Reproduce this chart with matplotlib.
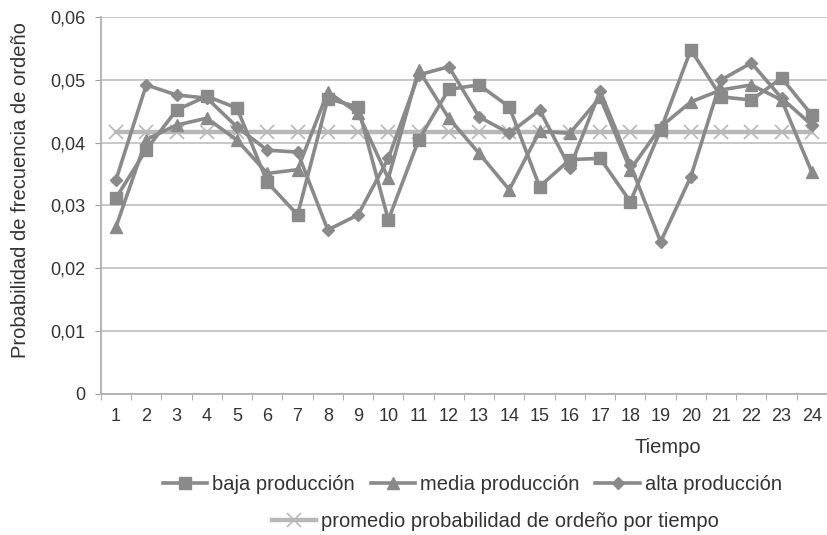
import numpy as np
import matplotlib.pyplot as plt
from matplotlib.ticker import FuncFormatter

plt.rcParams['font.family'] = ['Liberation Sans', 'DejaVu Sans']

tiempo = list(range(1, 25))

baja = [0.0312, 0.0389, 0.0452, 0.0474, 0.0455, 0.0337, 0.0285, 0.0470,
        0.0457, 0.0277, 0.0404, 0.0485, 0.0492, 0.0457, 0.0330, 0.0373,
        0.0375, 0.0306, 0.0420, 0.0548, 0.0473, 0.0468, 0.0503, 0.0444]
media = [0.0266, 0.0405, 0.0428, 0.0439, 0.0404, 0.0351, 0.0357, 0.0481,
         0.0447, 0.0343, 0.0516, 0.0439, 0.0383, 0.0325, 0.0418, 0.0415,
         0.0472, 0.0357, 0.0425, 0.0465, 0.0484, 0.0492, 0.0468, 0.0353]
alta = [0.0341, 0.0492, 0.0476, 0.0471, 0.0425, 0.0388, 0.0385, 0.0261,
        0.0285, 0.0375, 0.0508, 0.0521, 0.0441, 0.0415, 0.0452, 0.0360,
        0.0482, 0.0365, 0.0242, 0.0346, 0.0500, 0.0527, 0.0471, 0.0428]
promedio = [1 / 24] * 24

gris = '#8a8a8a'
gris_claro = '#b8b8b8'
texto = '#333333'

fig = plt.figure(figsize=(8.27, 5.35), dpi=100)
ax = fig.add_axes([0.122, 0.264, 0.878, 0.704])

l_prom, = ax.plot(tiempo, promedio, color=gris_claro, lw=3.2, marker='x',
                  ms=10, mew=1.2, label='promedio probabilidad de ordeño por tiempo')
l_baja, = ax.plot(tiempo, baja, color=gris, lw=2.6, marker='s', ms=8.5,
                  label='baja producción')
l_media, = ax.plot(tiempo, media, color=gris, lw=2.6, marker='^', ms=8.5,
                   label='media producción')
l_alta, = ax.plot(tiempo, alta, color=gris, lw=2.6, marker='D', ms=6.5,
                  label='alta producción')

ax.set_xlim(0.5, 24.5)
ax.set_ylim(0, 0.06)
ax.set_yticks(np.arange(0, 0.061, 0.01))
ax.yaxis.set_major_formatter(FuncFormatter(
    lambda v, p: '0' if v == 0 else f'{v:.2f}'.replace('.', ',')))
ax.set_xticks(tiempo)
ax.set_xticks(np.arange(0.5, 25, 1), minor=True)
ax.tick_params(axis='x', which='major', length=0, pad=10)
ax.tick_params(axis='x', which='minor', length=4, color='#a0a0a0')
ax.tick_params(axis='y', length=4, color='#a0a0a0', pad=7)
ax.tick_params(labelsize=13, labelcolor=texto)

ax.grid(axis='y', color='#c4c4c4', lw=1.3)
ax.set_axisbelow(True)
for s in ['top', 'right']:
    ax.spines[s].set_visible(False)
for s in ['left', 'bottom']:
    ax.spines[s].set_color('#b0b0b0')
    ax.spines[s].set_linewidth(1.3)

fig.text(21 / 827, 1 - 190 / 535, 'Probabilidad de frecuencia de ordeño',
         rotation=90, ha='center', va='center', fontsize=14.5, color=texto)
ax.set_xlabel('Tiempo', fontsize=14.5, color=texto)
ax.xaxis.set_label_coords(0.781, -0.118)

leg1 = fig.legend(handles=[l_baja, l_media, l_alta], loc='center',
                  bbox_to_anchor=(0.571, 0.0935), ncol=3, frameon=False,
                  fontsize=14.5, handlelength=2.2, columnspacing=0.8,
                  handletextpad=0.25, borderpad=0, borderaxespad=0)
leg2 = fig.legend(handles=[l_prom], loc='center', bbox_to_anchor=(0.599, 0.025),
                  frameon=False, fontsize=14.5, handlelength=2.2,
                  handletextpad=0.25, borderpad=0, borderaxespad=0)
for leg in (leg1, leg2):
    for t in leg.get_texts():
        t.set_color(texto)

fig.savefig('out.png', dpi=100)
